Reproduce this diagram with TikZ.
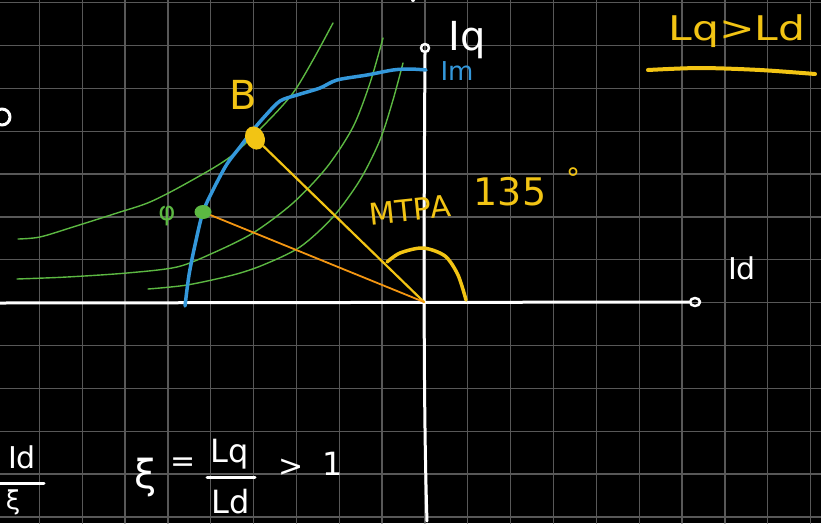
\documentclass[tikz,border=0pt]{standalone}
\usepackage{fontspec}
\setmainfont{DejaVu Sans}
\usetikzlibrary{shapes.geometric}
\definecolor{gridc}{RGB}{88,88,88}
\definecolor{cblue}{RGB}{52,152,219}
\definecolor{cgreen}{RGB}{92,184,66}
\definecolor{cyellow}{RGB}{242,196,20}
\definecolor{corange}{RGB}{243,150,18}
\begin{document}
\begin{tikzpicture}[x=1pt,y=-1pt,line cap=round,line join=round,
  gridline/.style={gridc,line width=1.3pt},
  axisline/.style={white,line width=3pt},
  endcirc/.style={circle,draw=white,line width=2.5pt,minimum size=8pt,inner sep=0pt},
  torque/.style={cgreen,line width=1.4pt},
  limitc/.style={cblue,line width=3.5pt},
  fracbar/.style={white,line width=3pt},
  hand/.style={inner sep=0pt,font=\fontsize{#1}{#1}\selectfont},
  hand/.default=30]
\fill[black] (0,0) rectangle (821,523);
\useasboundingbox (0,0) rectangle (821,523);
\clip (0,0) rectangle (821,523);
% grid
\foreach \k in {0,...,18} \draw[gridline] ({39.3+42.85*\k},0) -- ({39.3+42.85*\k},523);
\foreach \k in {0,...,12} \draw[gridline] (0,{2.7+42.85*\k}) -- (821,{2.7+42.85*\k});
% axes
\coordinate (O) at (424,302);
\coordinate (axleft) at (0,303);
\coordinate (axbot) at (427,521);
\node[endcirc] (qtip) at (425,48) {};
\node[endcirc,minimum width=10pt,minimum height=8pt,ellipse] (dtip) at (695,302) {};
\draw[axisline] (axleft) -- (dtip.west);
\draw[axisline] (qtip.south) .. controls (424,200) and (423,400) .. (axbot);
% torque curves
\draw[torque] plot[smooth] coordinates {(18,239) (40,237) (73,227) (117,213) (150,202) (187,183) (230,157) (267,122) (293,93) (313,60) (333,23)};
\draw[torque] plot[smooth] coordinates {(17,279) (67,277) (127,273) (177,267) (213,253) (253,233) (293,203) (327,167) (353,127) (370,83) (383,38)};
\draw[torque] plot[smooth] coordinates {(148,289) (187,285) (233,275) (263,265) (300,247) (333,217) (360,180) (380,140) (393,100) (403,63)};
% current limit
\draw[limitc] plot[smooth] coordinates {(185,306) (189,275) (195,245) (203,212) (214,188) (227,164) (240,147) (253,130) (266,115) (280,101) (297,95) (320,88) (337,80) (367,75) (393,70) (410,69) (426,70)};
% points and lines to origin
\node[ellipse,fill=cyellow,minimum width=19pt,minimum height=24pt,inner sep=0pt,rotate=25] (Bdot) at (255,138) {};
\node[ellipse,fill=cgreen,minimum width=17pt,minimum height=14pt,inner sep=0pt] (Pdot) at (203,212) {};
\draw[cyellow,line width=2.2pt] (Bdot) -- (O);
\draw[corange,line width=1.8pt] (Pdot) -- (O);
% angle arc
\draw[cyellow,line width=3.5pt] plot[smooth] coordinates {(387,262) (400,253) (423,248) (445,256) (458,275) (466,300)};
% labels
\node[hand=40,text=cyellow] (Blab) at (243,95) {B};
\node[hand=26,text=cgreen] (philab) at (167,216) {φ};
\node[hand=40,text=white] (Iq) at (467,40) {Iq};
\node[hand=26,text=cblue] (Im) at (457,71) {Im};
\node[hand=30,text=cyellow,rotate=6] (mtpa) at (410,210) {MTPA};
\node[hand=38,text=cyellow] (ang) at (510,192) {135};
\node[hand=28,text=cyellow] (deg) at (573,178) {°};
\node[hand=34,text=cyellow,xscale=1.25] (lql) at (737,31) {Lq>Ld};
\draw[cyellow,line width=4pt] plot[smooth] coordinates {(648,70) (700,68) (760,70) (815,74)};
\node[hand=30,text=white] (Id) at (742,268) {Id};
% bottom formula
\node[hand=40,text=white] (xi) at (146,477) {ξ};
\node[hand=30,text=white] (eq) at (183,465) {=};
\node[hand=32,text=white] (num) at (230,454) {Lq};
\coordinate (barL) at (207,477);
\coordinate (barR) at (255,477);
\draw[fracbar] (barL) -- (barR);
\node[hand=32,text=white] (den) at (231,502) {Ld};
\node[hand=30,text=white] (gt) at (291,468) {>};
\node[hand=32,text=white] (one) at (333,464) {1};
% left fraction
\node[hand=30,text=white] (lnum) at (22,457) {Id};
\coordinate (lbarL) at (0,483);
\coordinate (lbarR) at (44,483);
\draw[fracbar] (lbarL) -- (lbarR);
\node[hand=26,text=white] (lden) at (13,502) {ξ};
\draw[white,line width=3pt] (2,117) circle (8);
\fill[white] (413,0) circle (2);
\end{tikzpicture}
\end{document}
